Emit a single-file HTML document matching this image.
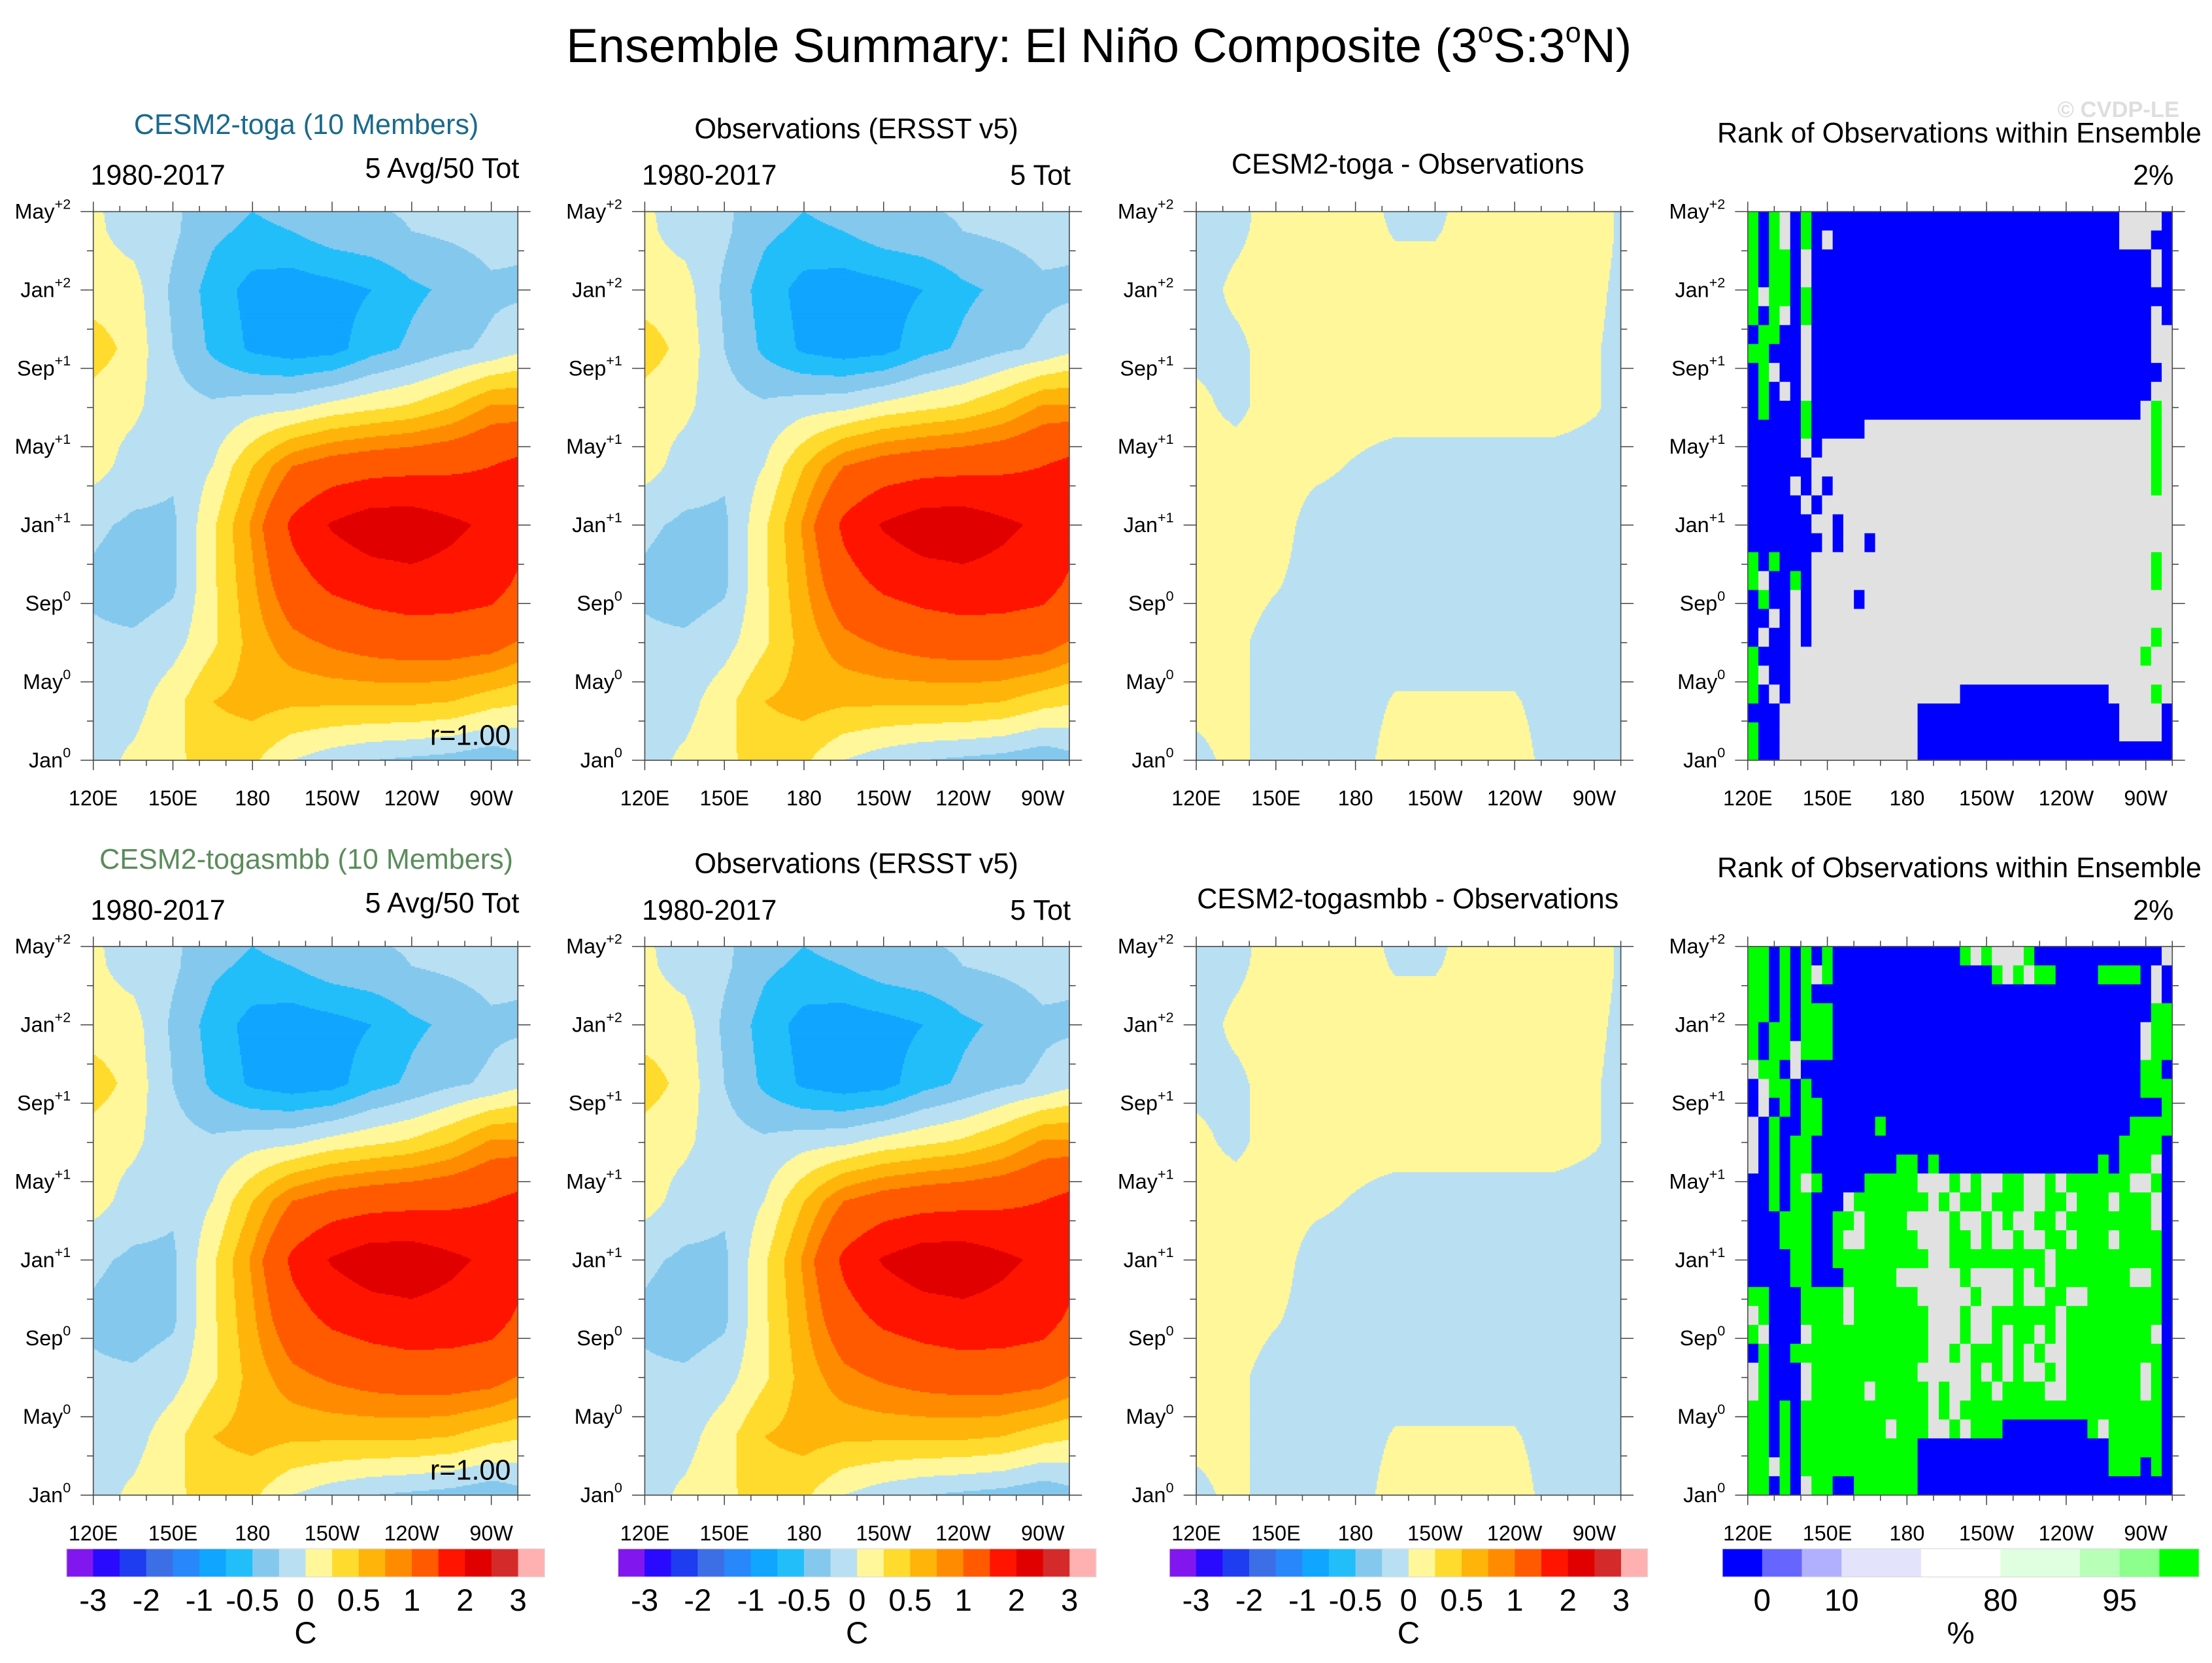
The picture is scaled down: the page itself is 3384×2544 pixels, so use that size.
<!DOCTYPE html>
<html><head><meta charset="utf-8">
<style>
html,body{margin:0;padding:0;background:#fff;}
svg{display:block;}
text{font-family:"Liberation Sans",sans-serif;}
.cb{font-family:"Liberation Sans Narrow","Liberation Sans",sans-serif;}
</style></head>
<body>
<svg id="fig" xmlns="http://www.w3.org/2000/svg" width="3384" height="2544" viewBox="0 0 1568 1179">
<rect x="0" y="0" width="1568" height="1179" fill="#fff"/>
<text x="779" y="44" font-size="34" text-anchor="middle">Ensemble Summary: El Niño Composite (3<tspan font-size="20" dy="-14">o</tspan><tspan dy="14">S:3</tspan><tspan font-size="20" dy="-14">o</tspan><tspan dy="14">N)</tspan></text>
<text x="1545" y="83" font-size="16" font-weight="bold" fill="#dedede" text-anchor="end">© CVDP-LE</text>
<g id="layer"></g>
</svg>
<script>
// ---------- DATA ----------
const lonGrid = [120,135,150,165,180,195,210,225,240,255,270,285];
const monthGrid = [0,3,6,9,12,15,18,21,24,27,30];
const modelSST = [
 [-0.1, 0.05, 0.2, 0.35, 0.3, 0.0,-0.15,-0.25,-0.3,-0.35,-0.45,-0.3],
 [-0.1,-0.1, 0.15, 0.5, 0.6, 0.55, 0.55, 0.55, 0.55, 0.5, 0.35, 0.25],
 [-0.2,-0.2,-0.1, 0.2, 0.6, 0.9, 1.05, 1.15, 1.2, 1.2, 1.15, 0.9],
 [-0.3,-0.4,-0.3, 0.2, 0.7, 1.3, 1.6, 1.75, 1.85, 1.8, 1.7, 1.3],
 [-0.2,-0.3,-0.3, 0.2, 0.8, 1.6, 2.05, 2.3, 2.3, 2.1, 1.9, 1.6],
 [ 0.1,-0.1,-0.2, 0.0, 0.5, 1.0, 1.2, 1.3, 1.35, 1.4, 1.5, 1.7],
 [ 0.1, 0.05,-0.15,-0.2,-0.1,-0.05, 0.1, 0.2, 0.3, 0.5, 0.8, 0.8],
 [ 0.4, 0.15,-0.25,-0.55,-0.8,-0.9,-0.85,-0.6,-0.45,-0.3,-0.2, 0.0],
 [ 0.1, 0.1,-0.3,-0.6,-0.85,-0.9,-0.85,-0.75,-0.55,-0.45,-0.3,-0.3],
 [ 0.05,-0.1,-0.2,-0.45,-0.55,-0.5,-0.35,-0.3,-0.25,-0.2,-0.15,-0.2],
 [ 0.0,-0.1,-0.2,-0.35,-0.4,-0.3,-0.25,-0.2,-0.2,-0.2,-0.15,-0.2]
];
const obsSST = [
 [-0.1, 0.05, 0.2, 0.35, 0.3, 0.0,-0.15,-0.25,-0.3,-0.35,-0.45,-0.3],
 [-0.1,-0.1, 0.15, 0.5, 0.6, 0.55, 0.55, 0.55, 0.55, 0.5, 0.35, 0.25],
 [-0.2,-0.2,-0.1, 0.2, 0.6, 0.9, 1.05, 1.15, 1.2, 1.2, 1.15, 0.9],
 [-0.3,-0.4,-0.3, 0.2, 0.7, 1.3, 1.6, 1.75, 1.85, 1.8, 1.7, 1.3],
 [-0.2,-0.3,-0.3, 0.2, 0.8, 1.6, 2.05, 2.3, 2.3, 2.1, 1.9, 1.6],
 [ 0.1,-0.1,-0.2, 0.0, 0.5, 1.0, 1.2, 1.3, 1.35, 1.4, 1.5, 1.7],
 [ 0.1, 0.05,-0.15,-0.2,-0.1,-0.05, 0.1, 0.2, 0.3, 0.5, 0.8, 0.8],
 [ 0.4, 0.15,-0.25,-0.55,-0.8,-0.9,-0.85,-0.6,-0.45,-0.3,-0.2, 0.0],
 [ 0.1, 0.1,-0.3,-0.6,-0.85,-0.9,-0.85,-0.75,-0.55,-0.45,-0.3,-0.3],
 [ 0.05,-0.1,-0.2,-0.45,-0.55,-0.5,-0.35,-0.3,-0.25,-0.2,-0.15,-0.2],
 [ 0.0,-0.1,-0.2,-0.35,-0.4,-0.3,-0.25,-0.2,-0.2,-0.2,-0.15,-0.2]
];
const diffSST = [
 [-0.05, 0.05,-0.1,-0.1,-0.1, 0.1, 0.1, 0.1, 0.1,-0.1,-0.1,-0.05],
 [ 0.05, 0.05,-0.1,-0.1,-0.1, 0.02,0.02,0.02,0.02,-0.1,-0.1, 0.05],
 [ 0.05, 0.05,-0.1,-0.1,-0.1,-0.1,-0.1,-0.1,-0.1,-0.1,-0.1, 0.05],
 [ 0.1, 0.1, 0.02,-0.1,-0.1,-0.1,-0.1,-0.1,-0.1,-0.1,-0.1, 0.05],
 [ 0.1, 0.1, 0.1,-0.1,-0.1,-0.1,-0.1,-0.1,-0.1,-0.1,-0.1, 0.05],
 [ 0.1, 0.1, 0.1, 0.05,-0.02,-0.1,-0.1,-0.1,-0.1,-0.1,-0.1, 0.05],
 [ 0.05,-0.05,0.1, 0.1, 0.1, 0.1, 0.1, 0.1, 0.1, 0.1, 0.02,-0.1],
 [-0.05,-0.05,0.1, 0.1, 0.1, 0.1, 0.1, 0.1, 0.1, 0.1, 0.02,-0.1],
 [-0.1, 0.05, 0.1, 0.1, 0.1, 0.1, 0.1, 0.1, 0.1, 0.1, 0.05,-0.1],
 [-0.1,-0.05, 0.1, 0.1, 0.1,-0.02,-0.02, 0.1, 0.1, 0.1, 0.1,-0.1],
 [-0.1,-0.1, 0.1, 0.1, 0.1,-0.1,-0.1, 0.1, 0.1, 0.1, 0.1,-0.1]
];
// rank categories per month (top row = May+2, bottom = Jan0); B=low, L=mid, G=high
const rankToga = [
"GBGLBGBBBBBBBBBBBBBBBBBBBBBBBBBBBBBLLLLB",
"GBGLBGBLBBBBBBBBBBBBBBBBBBBBBBBBBBBLLLBB",
"GBGGBLBBBBBBBBBBBBBBBBBBBBBBBBBBBBBBBBLB",
"GBGGBLBBBBBBBBBBBBBBBBBBBBBBBBBBBBBBBBLB",
"GLGGBGBBBBBBBBBBBBBBBBBBBBBBBBBBBBBBBBBB",
"GBGLBGBBBBBBBBBBBBBBBBBBBBBBBBBBBBBBBBLB",
"BGGBBLBBBBBBBBBBBBBBBBBBBBBBBBBBBBBBBBLL",
"GGBBBLBBBBBBBBBBBBBBBBBBBBBBBBBBBBBBBBLL",
"BGLBBLBBBBBBBBBBBBBBBBBBBBBBBBBBBBBBBBBL",
"BGBLBLBBBBBBBBBBBBBBBBBBBBBBBBBBBBBBBBLL",
"BGBBBGBBBBBBBBBBBBBBBBBBBBBBBBBBBBBBBLGL",
"BBBBBGBBBBBLLLLLLLLLLLLLLLLLLLLLLLLLLLGL",
"BBBBBLBLLLLLLLLLLLLLLLLLLLLLLLLLLLLLLLGL",
"BBBBBBLLLLLLLLLLLLLLLLLLLLLLLLLLLLLLLLGL",
"BBBBLBLBLLLLLLLLLLLLLLLLLLLLLLLLLLLLLLGL",
"BBBBBLBLLLLLLLLLLLLLLLLLLLLLLLLLLLLLLLLL",
"BBBBBBLLBLLLLLLLLLLLLLLLLLLLLLLLLLLLLLLL",
"BBBBBBBLBLLBLLLLLLLLLLLLLLLLLLLLLLLLLLLL",
"GBGBBBLLLLLLLLLLLLLLLLLLLLLLLLLLLLLLLLGL",
"GLBBGBLLLLLLLLLLLLLLLLLLLLLLLLLLLLLLLLGL",
"BGBBLBLLLLBLLLLLLLLLLLLLLLLLLLLLLLLLLLLL",
"BBLBLBLLLLLLLLLLLLLLLLLLLLLLLLLLLLLLLLLL",
"BLBBLBLLLLLLLLLLLLLLLLLLLLLLLLLLLLLLLLGL",
"GBBBLLLLLLLLLLLLLLLLLLLLLLLLLLLLLLLLLGLL",
"GLBBLLLLLLLLLLLLLLLLLLLLLLLLLLLLLLLLLLLL",
"GBLBLLLLLLLLLLLLLLLLBBBBBBBBBBBBBBLLLLGL",
"BBBLLLLLLLLLLLLLBBBBBBBBBBBBBBBBBBBLLLLB",
"GBBLLLLLLLLLLLLLBBBBBBBBBBBBBBBBBBBLLLLB",
"GBBLLLLLLLLLLLLLBBBBBBBBBBBBBBBBBBBBBBBB"
];
const rankTogasmbb = [
"GGBGBGBGBBBBBBBBBBBBGLGLLLGBBBBBBBBBBBBL",
"GGBGBGLGBBBBBBBBBBBBBBBGLGLGGBBBBGGGGBLB",
"GGBGBGBBBBBBBBBBBBBBBBBBBBBBBBBBBBBBBBLB",
"GGBGBGGGBBBBBBBBBBBBBBBBBBBBBBBBBBBBBBGG",
"GBGGBGGGBBBBBBBBBBBBBBBBBBBBBBBBBBBBBLGG",
"GBGGLGGGBBBBBBBBBBBBBBBBBBBBBBBBBBBBBLGG",
"LGGBLBBBBBBBBBBBBBBBBBBBBBBBBBBBBBBBBGGB",
"BLGGBGBBBBBBBBBBBBBBBBBBBBBBBBBBBBBBBGGG",
"BLBGBGGBBBBBBBBBBBBBBBBBBBBBBBBBBBBBBBBG",
"LBGBBGGBBBBBGBBBBBBBBBBBBBBBBBBBBBBBGGGG",
"LBGBGGBBBBBBBBBBBBBBBBBBBBBBBBBBBBBGGGGB",
"LBGBGGBBBBBBBBGGBGBBBBBBBBBBBBBBBGBGGGLB",
"BBGBGLGBBBBGGGGGLLLGLGLLGGLLGLGGGGGGLLGB",
"BBGBGGBBBLGGGGGGGLGLGGLGGGLLGGLGGGLGGGLB",
"BBBGGGBBGGLGGGGLLLLGLLGLGLLGGLGGGGGGGGLB",
"BBBGGGBBGLLGGGGGLLLGGLGLLGLLGGLGGGLGGGGB",
"BBBBGGBBGGGGGGGGGLLGGGGGGGGGLGGGGGGGGGGB",
"BBBBGGBBBGGGGGLLLLLLGLLLLGLGLGGGGGGGLLGB",
"GGBBBGGGGLGGGGGGLLLLLGLLLGLLGGLLGGGGGGGB",
"LGBBBGGGGLGGGGGGGLLLGLLGGGGGGLGGGGGGGGGB",
"GLBBBLGGGGGGGGGGGLLLGLLGLGGLGLGGGGGGGGLB",
"BGBBGGGGGGGGGGGGGLLGLGGGLGLGLLGGGGGGGGGB",
"LGBBBLGGGGGGGGGGLLLLLGLGLGLLGLGGGGGGGLGB",
"LGBBBLGGGGGLGGGGGLGLLGGLGGGGLLGGGGGGGLGB",
"GGBGBGGGGGGGGGGGGLGLGGGGGGGGGGGGGGGGGGGB",
"GGBGBGGGGGGGGLGGGLLGLGGGBBBBBBBBGLGGGGGB",
"GGBGBGGGGGGGGGGGBBBBBBBBBBBBBBBBBBGGGGGB",
"GGLGBGGGGGGGGGGGBBBBBBBBBBBBBBBBBBGGGBGB",
"GGBGBLGGBBGGGGGGBBBBBBBBBBBBBBBBBBBBBBBB"
];
const sstLevels = [-3,-2.5,-2,-1.5,-1,-0.75,-0.5,-0.25,0,0.25,0.5,0.75,1,1.5,2,2.5,3];
const sstLabels = ["-3","-2","-1","-0.5","0","0.5","1","2","3"];
const rankLabels = ["0","10","80","95"];
const xTickLabels = ["120E","150E","180","150W","120W","90W"];
const xTickLons = [120,150,180,210,240,270];
const yTickMonths = ["Jan","May","Sep","Jan","May","Sep","Jan","May"];
const yTickSups = ["0","0","0","+1","+1","+1","+2","+2"];
const yTickT = [0,4,8,12,16,20,24,28];

// ---------- STYLE ----------
const sstColors = ["#8117ee","#2a0aff","#1e3cf0","#3c6ee6","#2887fa","#10a5ff","#22befa","#84c8ee","#b8e0f2","#fff79a","#ffdb2e","#ffb40a","#ff8c00","#ff5a00","#ff1400","#e00000","#d42a2a","#ffb0b0"];
const rankColors = ["#0000ff","#6666ff","#b0b0ff","#e3e3fb","#ffffff","#e0ffe0","#b8ffb8","#8cff8c","#00ff00"];
const rankCatColor = {B:"#0000ff",L:"#e1e1e1",G:"#00ff00"};
const NS="http://www.w3.org/2000/svg";
const layer=document.getElementById('layer');
const PW=301, PH=389, LON0=120, LON1=280, TMAX=28;
function mk(tag,attrs,parent){const e=document.createElementNS(NS,tag);for(const k in attrs)e.setAttribute(k,attrs[k]);(parent||layer).appendChild(e);return e;}
function xS(x0,lon){return x0+(lon-LON0)/(LON1-LON0)*PW;}
function yS(y0,t){return y0+PH-t/TMAX*PH;}
function interp(field,lon,t){
  let i=0;while(i<lonGrid.length-2&&lon>lonGrid[i+1])i++;
  let j=0;while(j<monthGrid.length-2&&t>monthGrid[j+1])j++;
  const fx=Math.min(1,Math.max(0,(lon-lonGrid[i])/(lonGrid[i+1]-lonGrid[i])));
  const fy=Math.min(1,Math.max(0,(t-monthGrid[j])/(monthGrid[j+1]-monthGrid[j])));
  const a=field[j][i],b=field[j][i+1],c=field[j+1][i],d=field[j+1][i+1];
  return (a*(1-fx)+b*fx)*(1-fy)+(c*(1-fx)+d*fx)*fy;
}
function levelIdx(v){let k=0;while(k<sstLevels.length&&v>=sstLevels[k])k++;return k;}
function drawField(x0,y0,field,name){
  const g=mk('g',{});
  
  
  for(let py=0;py<PH;py++){
    const t=(PH-py-0.5)/PH*TMAX;
    let start=0,cur=-1;
    for(let px=0;px<=PW;px++){
      let k=-2;
      if(px<PW){const lon=LON0+(px+0.5)/PW*(LON1-LON0);k=levelIdx(interp(field,lon,t));}
      if(k!==cur){
        if(cur>=0){
          const r=mk('rect',{x:x0+start,y:y0+py,width:px-start+0.3,height:1.3,fill:sstColors[cur]},g);
          
          
        }
        cur=k;start=px;
      }
    }
  }
}
function drawRank(x0,y0,rows,name){
  const g=mk('g',{});
  
  
  const nR=rows.length, nC=40, cw=PW/nC, rh=PH/nR;
  rows.forEach((row,ri)=>{
    let start=0,cur=row[0];
    for(let c=1;c<=nC;c++){
      const ch=c<nC?(row[c]||row[row.length-1]):null;
      if(ch!==cur){
        const r=mk('rect',{x:x0+start*cw,y:y0+ri*rh,width:(c-start)*cw+0.3,height:rh+0.3,fill:rankCatColor[cur]||"#e1e1e1"},g);
        
        
        cur=ch;start=c;
      }
    }
  });
}
function drawAxes(x0,y0,name){
  const g=mk('g',{stroke:"#444","stroke-width":0.7,fill:"none"});
  
  
  mk('rect',{x:x0,y:y0,width:PW,height:PH,stroke:"#555","stroke-width":0.8},g);
  for(let lon=120;lon<=280;lon+=10){
    const x=xS(x0,lon), L=(lon%30===0)?7:4;
    mk('line',{x1:x,y1:y0,x2:x,y2:y0-L},g);
    mk('line',{x1:x,y1:y0+PH,x2:x,y2:y0+PH+L},g);
  }
  for(let t=0;t<=28;t+=2){
    const y=yS(y0,t), L=(t%4===0)?9:4.5;
    mk('line',{x1:x0,y1:y,x2:x0-L,y2:y},g);
    mk('line',{x1:x0+PW,y1:y,x2:x0+PW+L,y2:y},g);
  }
  yTickT.forEach((t,i)=>{
    const tx=mk('text',{x:x0-16,y:yS(y0,t)+5,"font-size":15,"text-anchor":"end",fill:"#000"});
    
    
    tx.textContent=yTickMonths[i];
    const s=mk('tspan',{"font-size":10,dy:-7},tx);s.textContent=yTickSups[i];
  });
  xTickLons.forEach((lon,i)=>{
    const tx=mk('text',{x:xS(x0,lon),y:y0+PH+32,"font-size":15,"text-anchor":"middle",fill:"#000"});
    
    
    tx.textContent=xTickLabels[i];
  });
}
function txt(x,y,s,size,anchor,name,fill){
  const t=mk('text',{x:x,y:y,"font-size":size,"text-anchor":anchor,fill:fill||"#000"});
  
  
  t.textContent=s;return t;
}
function sstColorbar(x0,y0,name){
  const g=mk('g',{});
  
  
  const W=339,n=sstColors.length,w=W/n;
  sstColors.forEach((c,i)=>{const r=mk('rect',{x:x0+i*w,y:y0,width:w+0.2,height:20,fill:c},g);
    
    });
  mk('rect',{x:x0,y:y0,width:W,height:20,fill:"none",stroke:"#ddd","stroke-width":0.6},g);
  sstLabels.forEach((s,i)=>{const t=txt(x0+(2*i+1)*w,y0+44,s,22,"middle","colorbar-label");t.setAttribute('class','cb');});
  const u=txt(x0+9*w,y0+67,"C",22,"middle","colorbar-units");u.setAttribute('class','cb');
}
function rankColorbar(x0,y0,name){
  const g=mk('g',{});
  
  
  const W=338, units=[1,1,1,2,2,2,1,1,1];let acc=0;const b=[];
  units.forEach((u,i)=>{const r=mk('rect',{x:x0+acc/12*W,y:y0,width:u/12*W+0.2,height:20,fill:rankColors[i]},g);
    
    
    acc+=u;b.push(acc);});
  mk('rect',{x:x0,y:y0,width:W,height:20,fill:"none",stroke:"#ddd","stroke-width":0.6},g);
  [b[0],b[2],b[4],b[6]].forEach((bb,i)=>{const t=txt(x0+bb/12*W,y0+44,rankLabels[i],22,"middle","colorbar-label");t.setAttribute('class','cb');});
  const u=txt(x0+W/2,y0+67,"%",22,"middle","colorbar-units");u.setAttribute('class','cb');
}

// ---------- LAYOUT ----------
const colX=[66,457,848,1239];
const rowY=[150,671];
const models=["CESM2-toga","CESM2-togasmbb"];
const modelColors=["#1b6a8c","#5b8c5b"];
const ranks=[rankToga,rankTogasmbb];
rowY.forEach((y0,r)=>{
  const d=r*521;
  drawField(colX[0],y0,modelSST,'model-composite-'+(r+1));
  drawField(colX[1],y0,obsSST,'obs-composite-'+(r+1));
  drawField(colX[2],y0,diffSST,'difference-'+(r+1));
  drawRank(colX[3],y0,ranks[r],'rank-map-'+(r+1));
  colX.forEach((x,c)=>drawAxes(x,y0,'axes-r'+(r+1)+'c'+(c+1)));
  txt(217,95+d,models[r]+" (10 Members)",20,"middle","model-title",modelColors[r]);
  txt(64,131+d,"1980-2017",20,"start","period-label");
  txt(368,126+d,"5 Avg/50 Tot",20,"end","event-count");
  txt(362,528+d,"r=1.00",20,"end","pattern-correlation");
  txt(607,98+d,"Observations (ERSST v5)",20,"middle","obs-title");
  txt(455,131+d,"1980-2017",20,"start","period-label");
  txt(759,131+d,"5 Tot",20,"end","event-count");
  txt(998,123+d,models[r]+" - Observations",20,"middle","difference-title");
  txt(1389,101+d,"Rank of Observations within Ensemble",20,"middle","rank-title");
  txt(1541,131+d,"2%",20,"end","rank-percent");
});
sstColorbar(47,1098,'colorbar-model');
sstColorbar(438,1098,'colorbar-obs');
sstColorbar(829,1098,'colorbar-diff');
rankColorbar(1221,1098,'colorbar-rank');
</script>
</body></html>
